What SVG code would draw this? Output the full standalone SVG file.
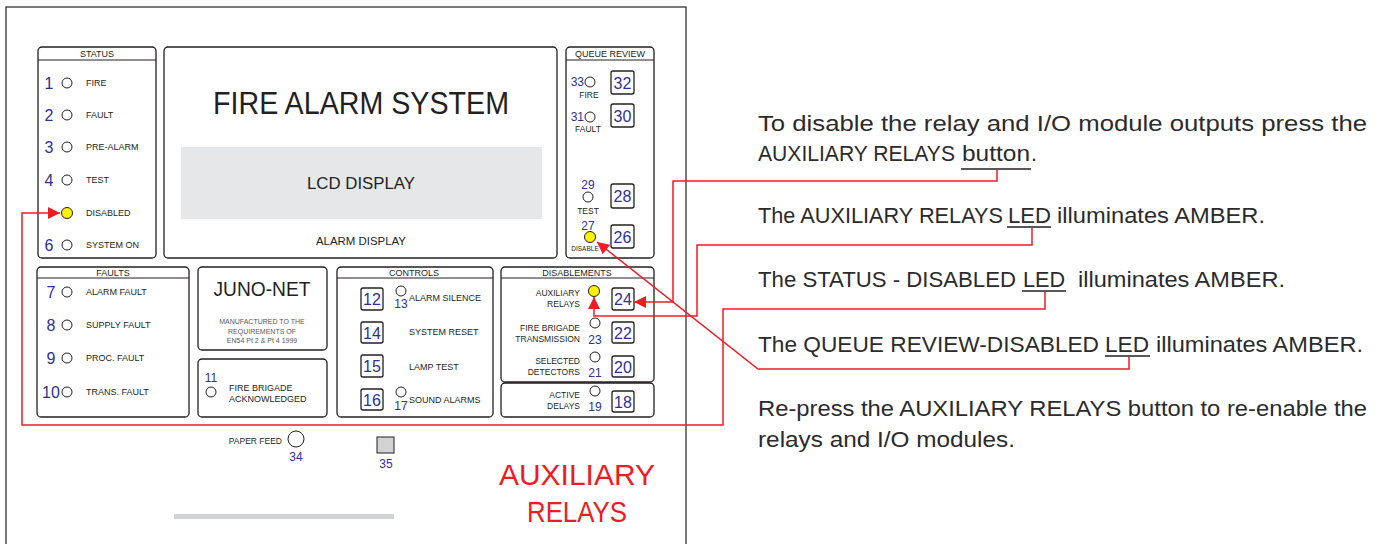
<svg xmlns="http://www.w3.org/2000/svg" width="1385" height="544" viewBox="0 0 1385 544">
<defs>
<style>
.frame{fill:#fff;stroke:#231f20;stroke-width:1.2}
.panel{fill:#fff;stroke:#231f20;stroke-width:1.3}
.hl{stroke:#231f20;stroke-width:1}
.t{font-family:"Liberation Sans",Arial,sans-serif;fill:#231f20}
.s9{font-size:9px}
.s85{font-size:8.5px}
.num{font-family:"Liberation Sans",Arial,sans-serif;fill:#2e3192;font-size:16px}
.bnum{font-family:"Liberation Sans",Arial,sans-serif;fill:#2e3192;font-size:16px;text-anchor:middle}
.snum{font-family:"Liberation Sans",Arial,sans-serif;fill:#2e3192;font-size:12px}
.led{fill:#fff;stroke:#231f20;stroke-width:1}
.on{fill:#fff200;stroke:#231f20;stroke-width:1}
.btn{fill:#fff;stroke:#231f20;stroke-width:1.3}
.red{fill:none;stroke:#ed1c24;stroke-width:1.5}
.rt{font-family:"Liberation Sans",Arial,sans-serif;font-size:21.5px;fill:#2b2b2b}
.ul{stroke:#231f20;stroke-width:1.5}
.mid{text-anchor:middle}
.end{text-anchor:end}
</style>
<marker id="ah" viewBox="0 0 10 10" refX="10" refY="5" markerUnits="userSpaceOnUse" markerWidth="14" markerHeight="12" orient="auto">
<path d="M0,0 L10,5 L0,10 z" fill="#ed1c24"/>
</marker>
</defs>
<rect width="1385" height="544" fill="#fff"/>
<rect class="frame" x="6" y="7" width="680" height="560"/>

<g id="status">
<rect class="panel" x="38" y="47" width="118" height="211" rx="4"/>
<line class="hl" x1="38" y1="60" x2="156" y2="60"/>
<text class="t s9 mid" x="97" y="57">STATUS</text>
<text class="num mid" x="49" y="89">1</text><circle class="led" cx="67" cy="83" r="5"/><text class="t s9" x="86" y="86">FIRE</text>
<text class="num mid" x="49" y="121">2</text><circle class="led" cx="67" cy="115" r="5"/><text class="t s9" x="86" y="118">FAULT</text>
<text class="num mid" x="49" y="153">3</text><circle class="led" cx="67" cy="147" r="5"/><text class="t s9" x="86" y="150">PRE-ALARM</text>
<text class="num mid" x="49" y="186">4</text><circle class="led" cx="67" cy="180" r="5"/><text class="t s9" x="86" y="183">TEST</text>
<circle class="on" cx="67" cy="213" r="5.5"/><text class="t s9" x="86" y="216">DISABLED</text>
<text class="num mid" x="49" y="251">6</text><circle class="led" cx="67" cy="245" r="5"/><text class="t s9" x="86" y="248">SYSTEM ON</text>
</g>

<g id="display">
<rect class="panel" x="164" y="47" width="393" height="211" rx="4"/>
<text class="t mid" x="361" y="114" font-size="31" textLength="296" lengthAdjust="spacingAndGlyphs">FIRE ALARM SYSTEM</text>
<rect x="181" y="147" width="361" height="72" fill="#e6e7e8"/>
<text class="t mid" x="361" y="189" font-size="17" textLength="108" lengthAdjust="spacingAndGlyphs">LCD DISPLAY</text>
<text class="t mid" x="361" y="245" font-size="11" textLength="90" lengthAdjust="spacingAndGlyphs">ALARM DISPLAY</text>
</g>

<g id="queue-review">
<rect class="panel" x="566" y="47" width="88" height="211" rx="4"/>
<line class="hl" x1="566" y1="60" x2="654" y2="60"/>
<text class="t s9 mid" x="610" y="57">QUEUE REVIEW</text>
<text class="snum end" x="584" y="86" font-size="11">33</text><circle class="led" cx="590" cy="82" r="5"/>
<text class="t mid" x="589" y="98" font-size="8.5">FIRE</text>
<rect class="btn" x="611" y="71" width="23" height="23" rx="2"/><text class="bnum" x="622.5" y="88.5">32</text>
<text class="snum end" x="584" y="121" font-size="11">31</text><circle class="led" cx="590" cy="117" r="5"/>
<text class="t mid" x="588" y="132" font-size="8.5">FAULT</text>
<rect class="btn" x="611" y="104" width="23" height="23" rx="2"/><text class="bnum" x="622.5" y="121.5">30</text>
<text class="snum mid" x="588" y="189">29</text><circle class="led" cx="588" cy="197" r="5"/>
<text class="t mid" x="588" y="214" font-size="8.5">TEST</text>
<rect class="btn" x="611" y="184" width="23" height="24" rx="2"/><text class="bnum" x="622.5" y="202">28</text>
<text class="snum mid" x="588" y="230">27</text><circle class="on" cx="590" cy="237" r="5.5"/>
<text class="t mid" x="585" y="251" font-size="6.5">DISABLE</text>
<rect class="btn" x="611" y="225" width="23" height="23" rx="2"/><text class="bnum" x="622.5" y="242.5">26</text>
</g>

<g id="faults">
<rect class="panel" x="37" y="267" width="152" height="150" rx="4"/>
<line class="hl" x1="37" y1="278" x2="189" y2="278"/>
<text class="t s9 mid" x="113" y="276">FAULTS</text>
<text class="num mid" x="51" y="298">7</text><circle class="led" cx="67" cy="292" r="5"/><text class="t s9" x="86" y="295">ALARM FAULT</text>
<text class="num mid" x="51" y="331">8</text><circle class="led" cx="67" cy="325" r="5"/><text class="t s9" x="86" y="328">SUPPLY FAULT</text>
<text class="num mid" x="51" y="364">9</text><circle class="led" cx="67" cy="358" r="5"/><text class="t s9" x="86" y="361">PROC. FAULT</text>
<text class="num mid" x="51" y="398">10</text><circle class="led" cx="67" cy="392" r="5"/><text class="t s9" x="86" y="395">TRANS. FAULT</text>
</g>

<g id="juno-net">
<rect class="panel" x="198" y="267" width="129" height="83" rx="4"/>
<text class="t mid" x="262" y="296" font-size="20" textLength="97" lengthAdjust="spacingAndGlyphs">JUNO-NET</text>
<text class="t mid" x="262" y="324" font-size="7" style="fill:#58595b">MANUFACTURED TO THE</text>
<text class="t mid" x="262" y="334" font-size="7" style="fill:#58595b">REQUIREMENTS OF</text>
<text class="t mid" x="262" y="343" font-size="7" style="fill:#58595b">EN54 Pt 2 &amp; Pt 4 1999</text>
</g>

<g id="fire-brigade-ack">
<rect class="panel" x="198" y="359" width="129" height="58" rx="4"/>
<text class="snum mid" x="211" y="382">11</text><circle class="led" cx="211" cy="392" r="5"/>
<text class="t s9" x="229" y="391">FIRE BRIGADE</text>
<text class="t s9" x="229" y="402">ACKNOWLEDGED</text>
</g>

<g id="controls">
<rect class="panel" x="337" y="267" width="156" height="150" rx="4"/>
<line class="hl" x1="337" y1="278" x2="493" y2="278"/>
<text class="t s9 mid" x="414" y="276">CONTROLS</text>
<rect class="btn" x="361" y="288" width="22" height="22" rx="2"/><text class="bnum" x="372" y="305">12</text>
<circle class="led" cx="401" cy="291" r="5"/><text class="snum mid" x="401" y="308">13</text>
<text class="t s9" x="409" y="301">ALARM SILENCE</text>
<rect class="btn" x="361" y="322" width="22" height="21" rx="2"/><text class="bnum" x="372" y="338.5">14</text>
<text class="t s9" x="409" y="335">SYSTEM RESET</text>
<rect class="btn" x="361" y="355" width="22" height="22" rx="2"/><text class="bnum" x="372" y="372">15</text>
<text class="t s9" x="409" y="370">LAMP TEST</text>
<rect class="btn" x="361" y="389" width="22" height="21" rx="2"/><text class="bnum" x="372" y="405.5">16</text>
<circle class="led" cx="401" cy="392" r="5"/><text class="snum mid" x="401" y="410">17</text>
<text class="t s9" x="409" y="403">SOUND ALARMS</text>
</g>

<g id="disablements">
<rect class="panel" x="501" y="267" width="153" height="115" rx="4"/>
<line class="hl" x1="501" y1="278" x2="654" y2="278"/>
<text class="t s9 mid" x="577" y="276">DISABLEMENTS</text>
<text class="t s85 end" x="580" y="296">AUXILIARY</text>
<text class="t s85 end" x="580" y="307">RELAYS</text>
<circle class="on" cx="594" cy="291" r="5.5"/>
<rect class="btn" x="612" y="288" width="22" height="22" rx="2"/><text class="bnum" x="623" y="305">24</text>
<text class="t s85 end" x="580" y="331">FIRE BRIGADE</text>
<text class="t s85 end" x="580" y="342">TRANSMISSION</text>
<circle class="led" cx="595" cy="323" r="5"/><text class="snum mid" x="595" y="344">23</text>
<rect class="btn" x="612" y="322" width="22" height="21" rx="2"/><text class="bnum" x="623" y="338.5">22</text>
<text class="t s85 end" x="580" y="364">SELECTED</text>
<text class="t s85 end" x="580" y="375">DETECTORS</text>
<circle class="led" cx="595" cy="357" r="5"/><text class="snum mid" x="595" y="377">21</text>
<rect class="btn" x="612" y="356" width="22" height="21" rx="2"/><text class="bnum" x="623" y="372.5">20</text>
</g>

<g id="active-delays">
<rect class="panel" x="501" y="383" width="153" height="34" rx="4"/>
<text class="t s85 end" x="580" y="398">ACTIVE</text>
<text class="t s85 end" x="580" y="409">DELAYS</text>
<circle class="led" cx="595" cy="391" r="5"/><text class="snum mid" x="595" y="411">19</text>
<rect class="btn" x="612" y="391" width="22" height="21" rx="2"/><text class="bnum" x="623" y="407.5">18</text>
</g>

<g id="paper-feed">
<text class="t end" x="282" y="444" font-size="8.5">PAPER FEED</text>
<circle class="led" cx="296" cy="439" r="8"/>
<text class="snum mid" x="296" y="461" font-size="13">34</text>
</g>

<g id="key-35">
<rect x="377" y="437" width="17" height="16" fill="#d1d3d4" stroke="#231f20" stroke-width="1"/>
<text class="snum mid" x="386" y="468" font-size="13">35</text>
</g>

<rect x="174" y="514" width="220" height="5" fill="#d1d3d4"/>

<g id="aux-title">
<text class="mid" x="577" y="485" font-family="Liberation Sans,Arial,sans-serif" font-size="30" fill="#ed1c24" textLength="156" lengthAdjust="spacingAndGlyphs">AUXILIARY</text>
<text class="mid" x="577" y="522" font-family="Liberation Sans,Arial,sans-serif" font-size="30" fill="#ed1c24" textLength="100" lengthAdjust="spacingAndGlyphs">RELAYS</text>
</g>

<g id="instructions">
<text class="rt" x="758" y="131" textLength="609" lengthAdjust="spacingAndGlyphs">To disable the relay and I/O module outputs press the</text>
<text class="rt" x="758" y="161" textLength="197" lengthAdjust="spacingAndGlyphs">AUXILIARY RELAYS</text>
<text class="rt" x="962" y="161" textLength="68" lengthAdjust="spacingAndGlyphs">button</text>
<text class="rt" x="1031" y="161">.</text>
<line class="ul" x1="961" y1="169" x2="1031" y2="169"/>

<text class="rt" x="758" y="223" textLength="245" lengthAdjust="spacingAndGlyphs">The AUXILIARY RELAYS</text>
<text class="rt" x="1008" y="223" textLength="43" lengthAdjust="spacingAndGlyphs">LED</text>
<text class="rt" x="1057" y="223" textLength="208" lengthAdjust="spacingAndGlyphs">illuminates AMBER.</text>
<line class="ul" x1="1007" y1="227" x2="1051" y2="227"/>

<text class="rt" x="758" y="287" textLength="258" lengthAdjust="spacingAndGlyphs">The STATUS - DISABLED</text>
<text class="rt" x="1023" y="287" textLength="42" lengthAdjust="spacingAndGlyphs">LED</text>
<text class="rt" x="1078" y="287" textLength="207" lengthAdjust="spacingAndGlyphs">illuminates AMBER.</text>
<line class="ul" x1="1022" y1="291" x2="1066" y2="291"/>

<text class="rt" x="758" y="352" textLength="341" lengthAdjust="spacingAndGlyphs">The QUEUE REVIEW-DISABLED</text>
<text class="rt" x="1105" y="352" textLength="44" lengthAdjust="spacingAndGlyphs">LED</text>
<text class="rt" x="1156" y="352" textLength="207" lengthAdjust="spacingAndGlyphs">illuminates AMBER.</text>
<line class="ul" x1="1105" y1="356" x2="1150" y2="356"/>

<text class="rt" x="758" y="416" textLength="609" lengthAdjust="spacingAndGlyphs">Re-press the AUXILIARY RELAYS button to re-enable the</text>
<text class="rt" x="758" y="447" textLength="257" lengthAdjust="spacingAndGlyphs">relays and I/O modules.</text>
</g>

<g id="connectors">
<path class="red" d="M997,170 V181 H673 V302 H634" marker-end="url(#ah)"/>
<path class="red" d="M1032,228 V245 H697 V316 H594 V297" marker-end="url(#ah)"/>
<path class="red" d="M1045,292 V309 H723 V425 H22 V213 H60" marker-end="url(#ah)"/>
<path class="red" d="M1129,357 V369 H758 L597,242" marker-end="url(#ah)"/>
</g>
</svg>
